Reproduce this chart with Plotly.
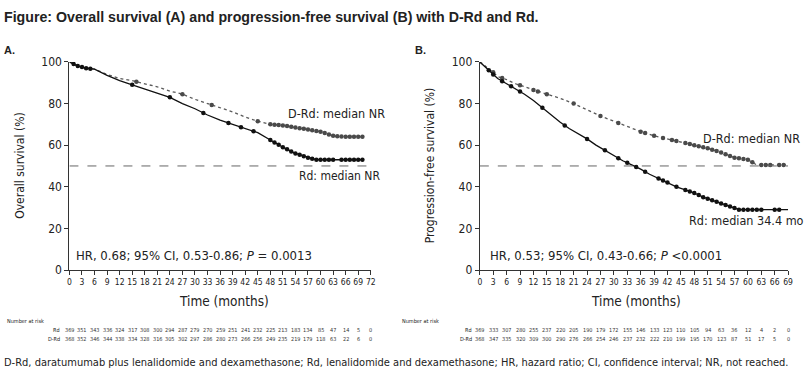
import plotly.graph_objects as go
import numpy as np

W, H = 806, 383
FONT = "DejaVu Sans Condensed, Liberation Sans Narrow, Liberation Sans, Arial"
FONT_T = "Liberation Sans, Arial"

# ---------------- DATA ----------------
# Panel A: overall survival (%)
os_rd_t = [0, 1, 2, 4, 6, 9, 12, 15, 18, 21, 24, 27, 30, 33, 36, 39, 42, 45, 48, 51, 54, 57, 59, 70]
os_rd_s = [100, 99, 98, 97, 96.5, 93.5, 91, 89, 87, 85, 83, 80, 77.5, 74.5, 72, 70, 68, 66, 62.5, 59, 56, 54, 53, 53]
os_drd_t = [0, 1, 2, 4, 6, 9, 12, 15, 18, 21, 24, 27, 30, 33, 36, 39, 42, 45, 48, 51, 54, 57, 60, 63, 66, 70]
os_drd_s = [100, 99, 98, 97, 96.5, 94, 92, 91, 89.5, 88, 86, 84.5, 82, 80, 78, 76, 73.5, 71.5, 70, 69.5, 68.5, 67.5, 66.5, 64.5, 64, 64]
os_rd_cens = [1, 2, 3, 4, 5, 15, 24, 32, 38, 41, 44, 48, 49, 50, 51, 52, 53, 54, 55, 56, 57, 58, 59, 60, 61, 62, 63, 65, 66, 67, 68, 69, 70]
os_drd_cens = [16, 27, 34, 45, 48, 49, 50, 51, 52, 53, 54, 55, 56, 57, 58, 59, 60, 61, 62, 63, 64, 65, 66, 67, 68, 69, 70]

# Panel B: progression-free survival (%)
pfs_rd_t = [0, 1, 2, 3, 4, 6, 8, 10, 12, 14, 16, 18, 20, 22, 24, 26, 28, 30, 32, 34, 36, 38, 40, 42, 44, 46, 48, 50, 52, 54, 56, 58, 69]
pfs_rd_s = [100, 98, 96, 94, 92, 89.5, 87, 84.5, 81.5, 78, 74.5, 71, 68, 65.5, 63, 60, 57.5, 55, 52.5, 50.5, 48.5, 46, 44, 42, 40, 38.5, 37, 35, 33.5, 32, 30.5, 29, 29]
pfs_drd_t = [0, 1, 2, 3, 4, 6, 8, 10, 12, 15, 18, 21, 24, 27, 30, 33, 36, 39, 42, 45, 48, 51, 54, 57, 60, 62, 69]
pfs_drd_s = [100, 98.5, 96.5, 95, 93, 91.5, 89.5, 88, 86.5, 84.5, 82.5, 80, 77, 74, 71.5, 69, 66.5, 64.5, 63, 61.5, 60, 58.5, 56.5, 54, 53, 50.5, 50.5]
pfs_rd_cens = [2, 3, 5, 7, 9, 14, 19, 24, 28, 31, 33, 35, 37, 40, 41, 42, 44, 46, 47, 48, 49, 50, 51, 52, 53, 54, 55, 56, 57, 58, 59, 60, 61, 62, 63, 66, 67]
pfs_drd_cens = [3, 5, 9, 12, 13, 15, 21, 27, 31, 36, 37, 39, 41, 43, 44, 46, 47, 48, 49, 50, 51, 52, 53, 54, 55, 56, 57, 58, 59, 60, 61, 63, 64, 65, 67, 68]

# Number at risk
os_ticks = [0, 3, 6, 9, 12, 15, 18, 21, 24, 27, 30, 33, 36, 39, 42, 45, 48, 51, 54, 57, 60, 63, 66, 69, 72]
os_risk_rd = [369, 351, 343, 336, 324, 317, 308, 300, 294, 287, 279, 270, 259, 251, 241, 232, 225, 213, 183, 134, 85, 47, 14, 5, 0]
os_risk_drd = [368, 352, 346, 344, 338, 334, 328, 316, 305, 302, 297, 286, 280, 273, 266, 256, 249, 235, 219, 179, 118, 63, 22, 6, 0]
pfs_ticks = [0, 3, 6, 9, 12, 15, 18, 21, 24, 27, 30, 33, 36, 39, 42, 45, 48, 51, 54, 57, 60, 63, 66, 69]
pfs_risk_rd = [369, 333, 307, 280, 255, 237, 220, 205, 190, 179, 172, 155, 146, 133, 123, 110, 105, 94, 63, 36, 12, 4, 2, 0]
pfs_risk_drd = [368, 347, 335, 320, 309, 300, 290, 276, 266, 254, 246, 237, 232, 222, 210, 199, 195, 170, 123, 87, 51, 17, 5, 0]

title_text = "Figure: Overall survival (A) and progression-free survival (B) with D-Rd and Rd."
footnote = ("D-Rd, daratumumab plus lenalidomide and dexamethasone; Rd, lenalidomide and dexamethasone; "
            "HR, hazard ratio; CI, confidence interval; NR, not reached.")


def px(x):
    return x / W


def py(y):
    return 1 - y / H


def curve_at(ts, ss, t):
    return float(np.interp(t, ts, ss))


fig = go.Figure()


def add_curve(t, s, cens, xa, ya, dashed):
    color = "#5a5a5a" if dashed else "#111111"
    fig.add_trace(go.Scatter(x=t, y=s, mode="lines",
                             line=dict(color=color, width=1.3, dash="dot" if dashed else "solid"),
                             xaxis=xa, yaxis=ya, showlegend=False, hoverinfo="skip"))
    cy = [curve_at(t, s, c) for c in cens]
    fig.add_trace(go.Scatter(x=cens, y=cy, mode="markers",
                             marker=dict(color="#4a4a4a" if dashed else "#111111", size=4.5,
                                         line=dict(width=0)),
                             xaxis=xa, yaxis=ya, showlegend=False, hoverinfo="skip"))


add_curve(os_drd_t, os_drd_s, os_drd_cens, "x", "y", True)
add_curve(os_rd_t, os_rd_s, os_rd_cens, "x", "y", False)
add_curve(pfs_drd_t, pfs_drd_s, pfs_drd_cens, "x2", "y2", True)
add_curve(pfs_rd_t, pfs_rd_s, pfs_rd_cens, "x2", "y2", False)

ydom = [py(273), py(57)]
axis_common = dict(showgrid=False, zeroline=False, showline=True, linecolor="#333333", linewidth=1.2,
                   ticks="outside", ticklen=4, tickcolor="#333333", tickwidth=1)
fig.update_layout(
    width=W, height=H, margin=dict(l=0, r=0, t=0, b=0),
    paper_bgcolor="white", plot_bgcolor="white",
    font=dict(family=FONT, color="#222222"),
    xaxis=dict(domain=[px(68), px(372)], range=[0, 72], tickvals=os_ticks, anchor="y",
               tickfont=dict(size=8.5), **axis_common),
    yaxis=dict(domain=ydom, range=[0, 100], tickvals=[0, 20, 40, 60, 80, 100], anchor="x",
               tickfont=dict(size=12), **axis_common),
    xaxis2=dict(domain=[px(482), px(793)], range=[0, 69], tickvals=pfs_ticks, anchor="y2",
                tickfont=dict(size=8.5), **axis_common),
    yaxis2=dict(domain=ydom, range=[0, 100], tickvals=[0, 20, 40, 60, 80, 100], anchor="x2",
                tickfont=dict(size=12), **axis_common),
)

# 50% reference lines
fig.add_shape(type="line", xref="x", yref="y", x0=0, x1=72, y0=50, y1=50,
              line=dict(color="#666666", width=1, dash="dash"))
fig.add_shape(type="line", xref="x2", yref="y2", x0=0, x1=69, y0=50, y1=50,
              line=dict(color="#666666", width=1, dash="dash"))

ann = []


def text(x, y, s, size=11, xanchor="left", bold=False, angle=0, family=FONT):
    ann.append(dict(x=x, y=y, xref="paper", yref="paper", text=("<b>%s</b>" % s) if bold else s,
                    showarrow=False, xanchor=xanchor, yanchor="middle", textangle=angle, borderpad=0,
                    font=dict(size=size, family=family, color="#222222")))


text(px(1), py(10), title_text, size=14.2, bold=True, family=FONT_T)
text(px(1), py(45), "A.", size=11, bold=True, family=FONT_T)
text(px(416), py(45), "B.", size=11, bold=True, family=FONT_T)

text(px(18), py(165), "Overall survival (%)", size=12, xanchor="center", angle=-90)
text(px(432), py(165), "Progression-free survival (%)", size=12, xanchor="center", angle=-90)
text(px(224), py(305), "Time (months)", size=13.5, xanchor="center")
text(px(640), py(305), "Time (months)", size=13.5, xanchor="center")

text(px(74), py(258), "HR, 0.68; 95% CI, 0.53-0.86; <i>P</i> = 0.0013", size=13)
text(px(491), py(258), "HR, 0.53; 95% CI, 0.43-0.66; <i>P</i> &lt;0.0001", size=13)

text(px(288), py(111), "D-Rd: median NR", size=12.5)
text(px(299), py(175), "Rd: median NR", size=12)
text(px(706), py(137), "D-Rd: median NR", size=12.5)
text(px(692), py(222), "Rd: median 34.4 mo", size=12.5)

# Number at risk tables
RF = 5.5
text(px(4), py(326), "Number at risk", size=RF)
text(px(60), py(335), "Rd", size=RF, xanchor="right")
text(px(60), py(345), "D-Rd", size=RF, xanchor="right")
text(px(402), py(326), "Number at risk", size=RF)
text(px(475), py(335), "Rd", size=RF, xanchor="right")
text(px(475), py(345), "D-Rd", size=RF, xanchor="right")

for xa, ticks, ra, rb in (("x", os_ticks, os_risk_rd, os_risk_drd), ("x2", pfs_ticks, pfs_risk_rd, pfs_risk_drd)):
    for t, a, b in zip(ticks, ra, rb):
        for val, yy in ((a, 335), (b, 345)):
            ann.append(dict(x=t, y=py(yy), xref=xa, yref="paper", text=str(val), showarrow=False,
                            xanchor="center", yanchor="middle", borderpad=0,
                            font=dict(size=RF, family=FONT, color="#333333")))

text(px(1), py(369), footnote, size=11, family=FONT)

fig.update_layout(annotations=ann)
fig.write_html("out.html", config={"displayModeBar": False},
               post_script="document.body.style.margin='0';document.body.style.overflow='hidden';")
